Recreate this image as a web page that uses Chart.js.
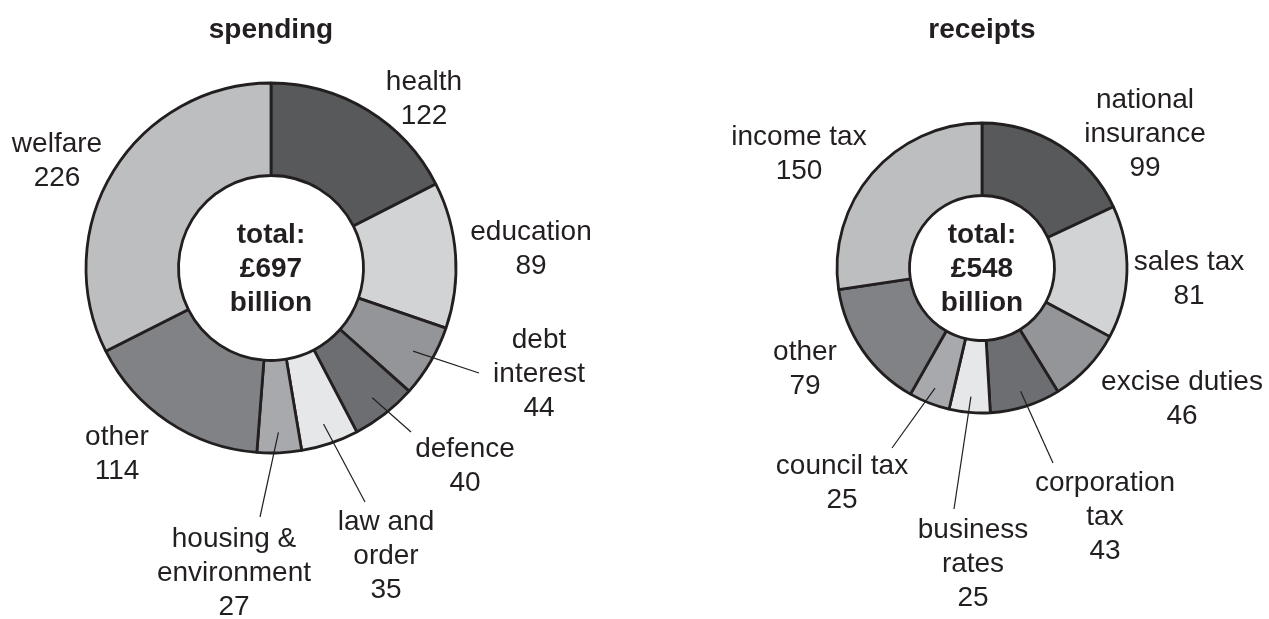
<!DOCTYPE html>
<html>
<head>
<meta charset="utf-8">
<script src="https://cdn.jsdelivr.net/npm/chart.js@4"></script>
<style>
    html, body { margin: 0; padding: 0; background: #ffffff; }
    #wrap { position: relative; width: 1269px; height: 619px; }
    #spendingBox { position: absolute; left: 0; top: 0; width: 635px; height: 619px; }
    #receiptsBox { position: absolute; left: 635px; top: 0; width: 634px; height: 619px; }
</style>
</head>
<body>
<div id="wrap">
    <div id="spendingBox"><canvas id="spendingChart"></canvas></div>
    <div id="receiptsBox"><canvas id="receiptsChart"></canvas></div>
</div>
<script>
// values in £ billion, clockwise from the top
const spendingCategories = ['health', 'education', 'debt\ninterest', 'defence', 'law and\norder', 'housing &\nenvironment', 'other', 'welfare'];
const spendingValues = [122, 89, 44, 40, 35, 27, 114, 226];
const spendingTotal = '£697';

const receiptsCategories = ['national\ninsurance', 'sales tax', 'excise duties', 'corporation\ntax', 'business\nrates', 'council tax', 'other', 'income tax'];
const receiptsValues = [99, 81, 46, 43, 25, 25, 79, 150];
const receiptsTotal = '£548';

const greys = ['#58595b', '#d1d3d4', '#939598', '#6d6e71', '#e6e7e8', '#a7a9ac', '#808285', '#bcbec0'];
const ink = '#231f20';
const fontFamily = '"Liberation Sans", Arial, Helvetica, sans-serif';

// label placement: offset of the first text baseline from the ring centre
const spendingLabelPos = [[153, -178], [260, -28], [268, 80], [194, 189], [115, 262], [-37, 279], [-154, 177], [-214, -116]];
// where the leader line ends (null = no leader)
const spendingLeaders = [null, null, [208, 105], [140, 164], [94, 234], [-11, 249], null, null];

const receiptsLabelPos = [[163, -160], [207, 2], [200, 122], [123, 223], [-9, 270], [-140, 206], [-177, 92], [-183, -123]];
const receiptsLeaders = [null, null, null, [71, 195], [-28, 241], [-90, 180], null, null];

document.addEventListener('DOMContentLoaded', () => {
    const lineH = 34;

    const sliceLabels = {
        id: 'sliceLabels',
        afterDraw(chart, args, opts) {
            const ctx = chart.ctx;
            const meta = chart.getDatasetMeta(0);
            const values = chart.data.datasets[0].data;
            const cx = meta.data[0].x;
            const cy = meta.data[0].y;

            ctx.save();
            ctx.fillStyle = ink;
            ctx.strokeStyle = ink;
            ctx.textAlign = 'center';
            ctx.textBaseline = 'alphabetic';

            // heading
            ctx.font = 'bold 28px ' + fontFamily;
            ctx.fillText(opts.title, cx, 38);

            // total in the hole
            ['total:', opts.total, 'billion'].forEach((t, k) => {
                ctx.fillText(t, cx, cy - 25 + k * lineH);
            });

            ctx.font = '28px ' + fontFamily;
            ctx.lineWidth = 1.2;
            meta.data.forEach((arc, i) => {
                const p = opts.positions[i];
                const lines = chart.data.labels[i].split('\n').concat(String(values[i]));
                lines.forEach((t, k) => {
                    ctx.fillText(t, cx + p[0], cy + p[1] + k * lineH);
                });
                const end = opts.leaders[i];
                if (end) {
                    const mid = (arc.startAngle + arc.endAngle) / 2;
                    const r = arc.outerRadius * 0.89;
                    ctx.beginPath();
                    ctx.moveTo(cx + Math.cos(mid) * r, cy + Math.sin(mid) * r);
                    ctx.lineTo(cx + end[0], cy + end[1]);
                    ctx.stroke();
                }
            });
            ctx.restore();
        }
    };

    function makeRing(canvasId, categories, values, radius, centre, boxW, title, total, positions, leaders) {
        const ctx = document.getElementById(canvasId).getContext('2d');
        return new Chart(ctx, {
            type: 'doughnut',
            data: {
                labels: categories,
                datasets: [{
                    data: values,
                    backgroundColor: greys,
                    borderColor: ink,
                    borderWidth: 2.8,
                    hoverOffset: 0
                }]
            },
            options: {
                responsive: true,
                maintainAspectRatio: false,
                animation: false,
                events: [],
                radius: radius,
                cutout: '50%',
                layout: {
                    padding: {
                        left: centre[0] - radius,
                        right: boxW - centre[0] - radius,
                        top: centre[1] - radius,
                        bottom: 619 - centre[1] - radius
                    }
                },
                plugins: {
                    legend: { display: false },
                    tooltip: { enabled: false },
                    sliceLabels: { title: title, total: total, positions: positions, leaders: leaders }
                }
            },
            plugins: [sliceLabels]
        });
    }

    makeRing('spendingChart', spendingCategories, spendingValues, 185, [271, 268], 635,
        'spending', spendingTotal, spendingLabelPos, spendingLeaders);
    makeRing('receiptsChart', receiptsCategories, receiptsValues, 145, [347, 268], 634,
        'receipts', receiptsTotal, receiptsLabelPos, receiptsLeaders);
});
</script>
</body>
</html>
